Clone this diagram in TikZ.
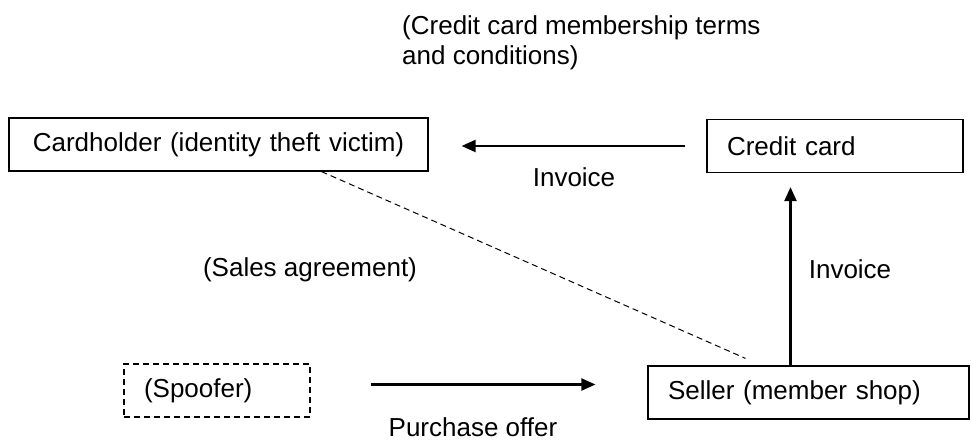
\documentclass[tikz,border=0pt]{standalone}
\usepackage{fontspec}
\setmainfont{Liberation Sans}
\usepackage{tikz}
\usetikzlibrary{arrows.meta,positioning}
\tikzstyle{arrow} = [line width=2.2pt,->,>={Triangle[length=14pt,width=12pt]}]
\tikzstyle{party} = [rectangle, draw, line width=1.2pt, minimum height=53pt, inner xsep=20pt, align=left]
\tikzstyle{tag} = [inner sep=0pt]

\begin{document}
\begin{tikzpicture}[x=1pt, y=-1pt, font=\fontsize{26}{30}\selectfont]
\useasboundingbox (0,0) rectangle (971,443);

% Parties
\node[party, text width=379pt, align=center] (holder) at (218.5,144.5) {Cardholder (identity theft victim)};
\node[party, text width=216pt] (card) at (835,146) {Credit card};
\node[party, text width=281pt] (seller) at (808.5,392.5) {Seller (member shop)};
\node[party, dashed, dash pattern=on 6pt off 4pt, text width=146pt] (spoofer) at (217,390.5) {(Spoofer)};

% Labels
\node[tag, anchor=west, align=left] (terms) at (402,43) {(Credit card membership terms\\and conditions)};
\node[tag] (inv1) at (574,177) {Invoice};
\node[tag] (inv2) at (850,269) {Invoice};
\node[tag] (sales) at (310,270) {(Sales agreement)};
\node[tag] (offer) at (473,427) {Purchase offer};

% Connectors
\draw[arrow, shorten <=21pt, shorten >=33pt] (card.west) -- (card.west -| holder.east);
\draw[arrow, shorten >=14pt] ([xshift=-18pt]seller.north) -- ([xshift=-18pt]seller.north |- card.south);
\draw[arrow, shorten <=60pt, shorten >=52pt] ([yshift=6pt]spoofer.east) -- ([yshift=6pt]spoofer.east -| seller.west);
\draw[line width=1pt, dash pattern=on 6pt off 4pt] ([xshift=103pt]holder.south) -- ([xshift=-63pt,yshift=7pt]seller.north);
\end{tikzpicture}
\end{document}
